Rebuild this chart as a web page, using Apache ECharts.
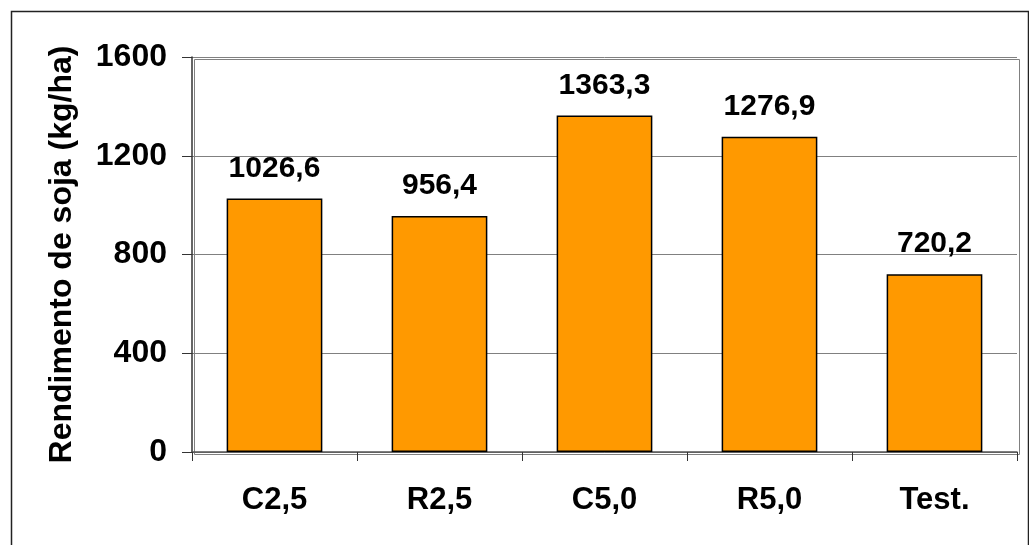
<!DOCTYPE html>
<html><head><meta charset="utf-8">
<script src="https://cdn.jsdelivr.net/npm/echarts@6/dist/echarts.min.js"></script>
<style>html,body{margin:0;padding:0;background:#fff}#c{width:1029px;height:545px}</style>
</head><body><div id="c"></div>
<script>
const categories = ['C2,5', 'R2,5', 'C5,0', 'R5,0', 'Test.'];
const values = [1026.6, 956.4, 1363.3, 1276.9, 720.2];
const yTicks = [0, 400, 800, 1200, 1600];
const yTitle = 'Rendimento de soja (kg/ha)';

const FONT = '"Liberation Sans", Arial, sans-serif';
const chart = echarts.init(document.getElementById('c'), null, {renderer: 'canvas'});
chart.setOption({
  animation: false,
  backgroundColor: '#ffffff',
  graphic: [{
    type: 'rect', left: 9, top: 9, silent: true,
    shape: {width: 1017, height: 545},
    style: {fill: 'none', stroke: '#222', lineWidth: 1.5}
  }, {
    type: 'rect', left: 192, top: 57, silent: true, z: -1,
    shape: {width: 825, height: 395},
    style: {fill: 'none', stroke: '#808080', lineWidth: 1}
  }],
  grid: {left: 192, right: 12, top: 57, bottom: 93, containLabel: false},
  xAxis: {
    type: 'category',
    data: categories,
    axisLine: {lineStyle: {color: '#555', width: 1.5}},
    axisTick: {show: true, length: 9, alignWithLabel: false, lineStyle: {color: '#333', width: 1}},
    axisLabel: {fontFamily: FONT, fontWeight: 'bold', fontSize: 31, color: '#000', margin: 33}
  },
  yAxis: {
    type: 'value',
    min: yTicks[0], max: yTicks[yTicks.length - 1], interval: 400,
    name: yTitle,
    nameLocation: 'middle',
    nameGap: 114,
    nameTextStyle: {fontFamily: FONT, fontWeight: 'bold', fontSize: 32, color: '#000'},
    axisLine: {show: true, lineStyle: {color: '#333', width: 1.5}},
    axisTick: {show: true, length: 10, lineStyle: {color: '#333', width: 1}},
    axisLabel: {fontFamily: FONT, fontWeight: 'bold', fontSize: 32, color: '#000', margin: 25,
      formatter: v => String(v)},
    splitLine: {show: true, lineStyle: {color: '#808080', width: 1}}
  },
  series: [{
    type: 'bar',
    data: values,
    barWidth: '58%',
    itemStyle: {color: '#FF9900', borderColor: '#000', borderWidth: 1.5},
    label: {
      show: true, position: 'top', distance: 15,
      fontFamily: FONT, fontWeight: 'bold', fontSize: 30, color: '#000',
      formatter: p => p.value.toFixed(1).replace('.', ',')
    }
  }]
});
</script></body></html>
